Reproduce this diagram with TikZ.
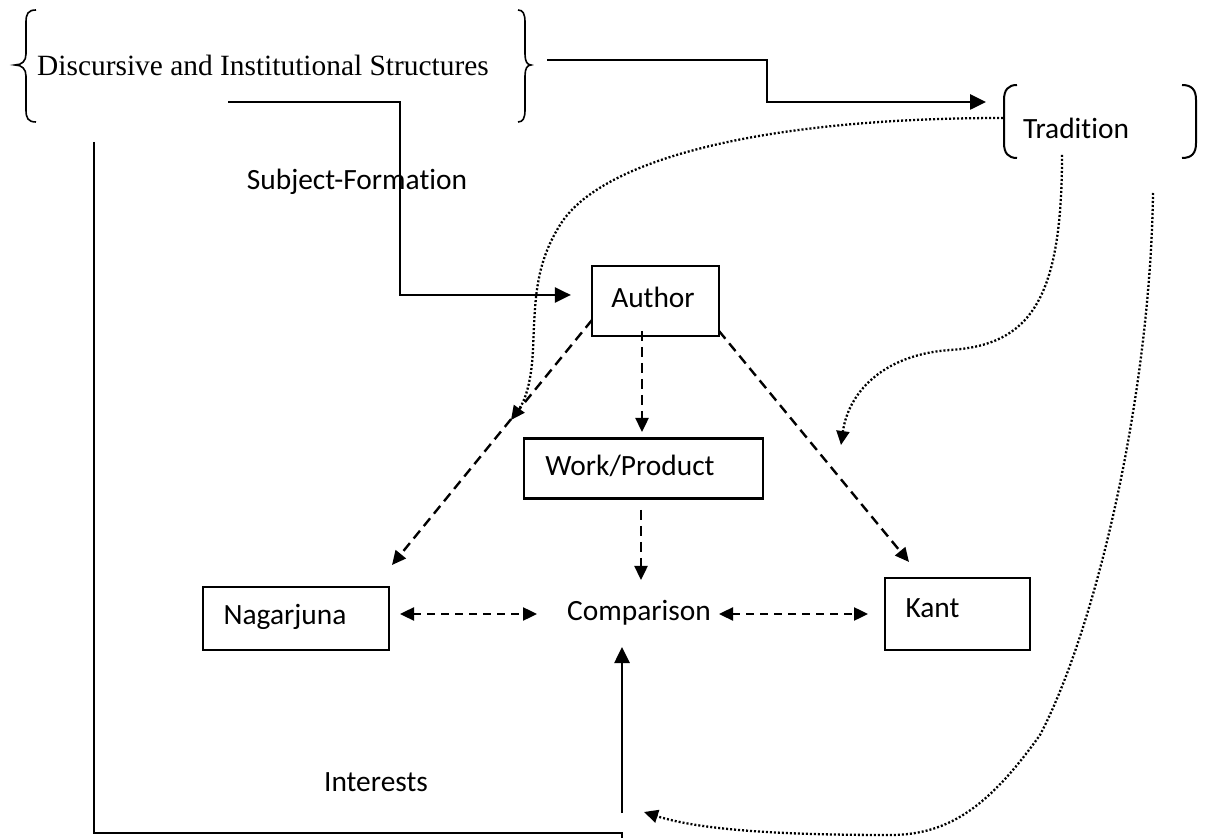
\documentclass[tikz,border=0pt]{standalone}
\usepackage{fontspec}
\setmainfont{Liberation Serif}
\newfontfamily\calibfont[Ligatures={NoCommon}]{Carlito}
\usetikzlibrary{arrows.meta}
\begin{document}
\begin{tikzpicture}[x=0.5pt,y=-0.5pt,
  box/.style={draw,line width=1.1pt,inner sep=0pt},
  lbl/.style={font=\calibfont\fontsize{14.7}{17}\selectfont,inner sep=0pt},
  serif/.style={font=\fontsize{14.7}{17}\selectfont,inner sep=0pt},
  bracket/.style={line width=0.8pt},
  solidline/.style={line width=1.3pt},
  solidarrow/.style={line width=1.3pt,-{Triangle[length=8pt,width=7.5pt]}},
  dasharrow/.style={line width=1.2pt,dash pattern=on 5pt off 3pt,-{Triangle[length=7pt,width=6.5pt]}},
  dashboth/.style={line width=1.2pt,dash pattern=on 4pt off 3pt,{Triangle[length=7pt,width=6.5pt]}-{Triangle[length=7pt,width=6.5pt]}},
  dotarrow/.style={line width=1.15pt,dash pattern=on 1pt off 1pt,-{Triangle[length=7pt,width=6.5pt]}},
]
\useasboundingbox (0,0) rectangle (1209,838);

% texts
\node[serif] (dis) at (263,65) {Discursive and Institutional Structures};
\node[lbl] (subj) at (357,182) {Subject-Formation};
\node[lbl] (trad) at (1076,128) {Tradition};
\node[lbl] (inter) at (376,782) {Interests};
\node[lbl] (comp) at (639,613) {Comparison};

% boxes
\node[box,minimum width=63.5pt,minimum height=35pt] (author) at (655.5,301) {};
\node[lbl] (authort) at (653,297) {Author};
\node[box,minimum width=119.5pt,minimum height=30pt] (work) at (643.5,468.5) {};
\node[lbl] (workt) at (630,466) {Work/Product};
\node[box,minimum width=93pt,minimum height=31.5pt] (nag) at (296,618.5) {};
\node[lbl] (nagt) at (285,617) {Nagarjuna};
\node[box,minimum width=72.5pt,minimum height=36pt] (kant) at (957.5,614) {};
\node[lbl] (kantt) at (932.5,608) {Kant};

% braces
\draw[bracket] (36,10) .. controls (28,10) and (26,14) .. (26,22) -- (26,54)
  .. controls (26,61) and (22,65) .. (15,65) .. controls (22,65) and (26,69) .. (26,76)
  -- (26,110) .. controls (26,118) and (28,122) .. (36,122);
\draw[bracket] (518,10) .. controls (523,10) and (525,14) .. (525,22) -- (525,54)
  .. controls (525,61) and (527,65) .. (531,65) .. controls (527,65) and (525,69) .. (525,76)
  -- (525,110) .. controls (525,118) and (523,122) .. (518,122);
% tradition brackets
\draw[bracket,line width=1pt] (1017,85) .. controls (1008,85) and (1004,90) .. (1004,100) -- (1004,143)
  .. controls (1004,153) and (1008,158) .. (1017,158);
\draw[bracket,line width=1pt] (1182,85) .. controls (1192,85) and (1196,90) .. (1196,100) -- (1196,143)
  .. controls (1196,153) and (1192,158) .. (1182,158);

% solid connectors
\coordinate (rb) at (547,60);
\coordinate (tin) at (986,102);
\draw[solidarrow] (rb) -- (767,60) -- (767,102) -- (tin);
\coordinate (sf) at (228,102);
\draw[solidarrow,shorten >=10pt] (sf) -- (400,102) -- (400,295) -- (author.west |- 0,295);
\coordinate (lt) at (94,142);
\coordinate (lb) at (622,838);
\draw[solidline] (lt) -- (94,833) -- (622,833) -- (lb);
\coordinate (cb) at (622,813);
\coordinate (ct) at (622,647);
\draw[solidarrow] (cb) -- (ct);

% dashed connectors
\coordinate (a1) at (592,320);
\coordinate (n1) at (392,565);
\draw[dasharrow] (a1) -- (n1);
\coordinate (a2) at (642,331);
\coordinate (w1) at (642,432);
\draw[dasharrow] (a2) -- (w1);
\coordinate (a3) at (719,331);
\coordinate (k1) at (909,562);
\draw[dasharrow] (a3) -- (k1);
\coordinate (w2) at (641,510);
\coordinate (c1) at (641,580);
\draw[dasharrow] (w2) -- (c1);
\coordinate (n2) at (400,614);
\coordinate (c2) at (537,614);
\draw[dashboth] (n2) -- (c2);
\coordinate (c3) at (719,614);
\coordinate (k2) at (868,614);
\draw[dashboth] (c3) -- (k2);

% dotted connectors
\coordinate (t1) at (1003,118);
\coordinate (t1e) at (511,420);
\draw[dotarrow] (t1) .. controls (760,118) and (600,160) .. (560,225)
  .. controls (535,265) and (535,300) .. (533,350)
  .. controls (531,390) and (522,405) .. (t1e);
\coordinate (t2) at (1062,155);
\coordinate (t2e) at (841,445);
\draw[dotarrow] (t2) .. controls (1062,300) and (1030,345) .. (950,350)
  .. controls (880,355) and (848,395) .. (t2e);
\coordinate (t3) at (1153,193);
\coordinate (t3e) at (644,812);
\draw[dotarrow] (t3) .. controls (1150,400) and (1095,630) .. (1040,735)
  .. controls (990,805) and (950,835) .. (890,835)
  .. controls (780,835) and (700,830) .. (t3e);
\end{tikzpicture}
\end{document}
